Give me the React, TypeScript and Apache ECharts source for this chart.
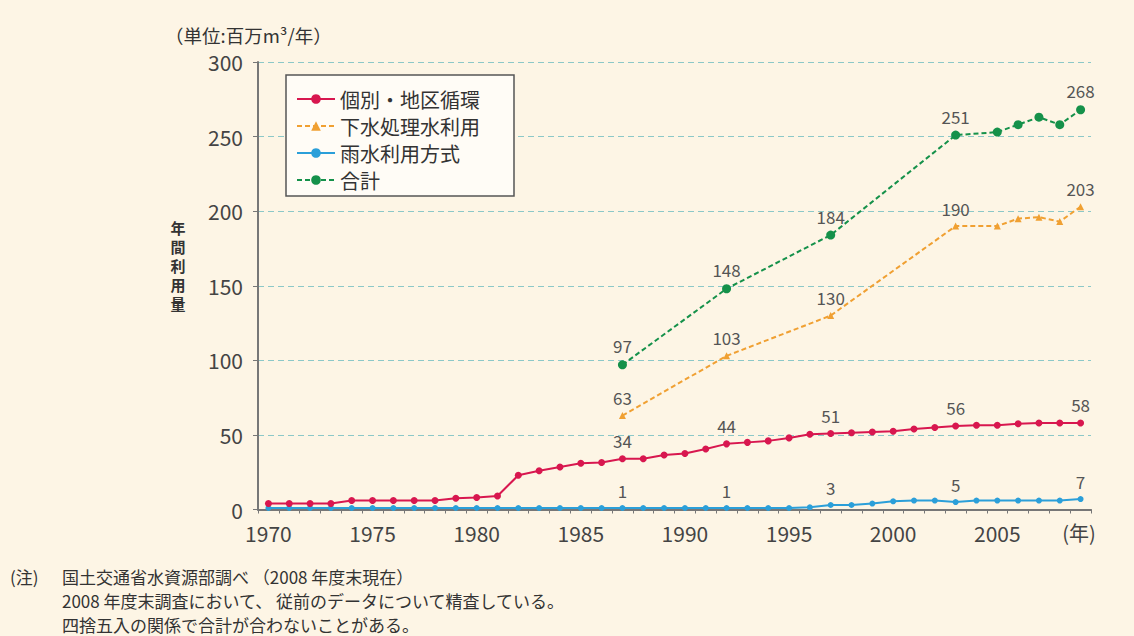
import React, { useEffect, useRef } from "react";
import * as echarts from "echarts";

const years = [
  "1970","1971","1972","1973","1974","1975","1976","1977","1978","1979",
  "1980","1981","1982","1983","1984","1985","1986","1987","1988","1989",
  "1990","1991","1992","1993","1994","1995","1996","1997","1998","1999",
  "2000","2001","2002","2003","2004","2005","2006","2007","2008","2009",
];

// 個別・地区循環
const kobetsu = [
  4, 4, 4, 4, 6, 6, 6, 6, 6, 7.5,
  8, 9, 23, 26, 28.5, 31, 31.5, 34, 34, 36.5,
  37.5, 40.5, 44, 45, 46, 48, 50.5, 51, 51.5, 52,
  52.5, 54, 55, 56, 56.5, 56.5, 57.5, 58, 58, 58,
];
// 下水処理水利用
const gesui = [
  null, null, null, null, null, null, null, null, null, null,
  null, null, null, null, null, null, null, 63, null, null,
  null, null, 103, null, null, null, null, 130, null, null,
  null, null, null, 190, null, 190, 195, 196, 193, 203,
];
// 雨水利用方式
const usui = [
  1, 1, 1, 1, 1, 1, 1, 1, 1, 1,
  1, 1, 1, 1, 1, 1, 1, 1, 1, 1,
  1, 1, 1, 1, 1, 1, 1.5, 3, 3, 4,
  5.5, 6, 6, 5, 6, 6, 6, 6, 6, 7,
];
// 合計
const goukei = [
  null, null, null, null, null, null, null, null, null, null,
  null, null, null, null, null, null, null, 97, null, null,
  null, null, 148, null, null, null, null, 184, null, null,
  null, null, null, 251, null, 253, 258, 263, 258, 268,
];

const labeledYears = ["1987", "1992", "1997", "2003", "2009"];
const yTicks = { min: 0, max: 300, interval: 50 };

const seriesNames = ["個別・地区循環", "下水処理水利用", "雨水利用方式", "合計"];
const colors = ["#d8174f", "#f0a032", "#2b9fd9", "#15914a"];

const yAxisNameChars = ["年", "間", "利", "用", "量"];
const noteMark = "(注)";
const notes = [
  "国土交通省水資源部調べ （2008 年度末現在）",
  "2008 年度末調査において、 従前のデータについて精査している。",
  "四捨五入の関係で合計が合わないことがある。",
];

const FONT = "'Noto Sans CJK JP', 'Noto Sans', sans-serif";

function withLabels(arr: (number | null)[]) {
  return arr.map((v, i) =>
    labeledYears.includes(years[i]) && v !== null
      ? { value: v, label: { show: true } }
      : v
  );
}

export default function App() {
  const ref = useRef<HTMLDivElement>(null);
  useEffect(() => {
    if (!ref.current) return;
    const chart = echarts.init(ref.current, null, { renderer: "svg" });
    const labelStyle = {
      show: false,
      position: "top",
      fontSize: 17,
      color: "#555",
      fontFamily: FONT,
      distance: 6,
      formatter: (p: any) => String(Math.round(p.value)),
    };
    const data = [kobetsu, gesui, usui, goukei];
    const symbols = ["circle", "triangle", "circle", "circle"];
    const sizes = [7, 7, 6, 9];
    const dashed = [false, true, false, true];
    const noteStyle = (t: string, x: number, y: number) => ({
      type: "text",
      x,
      y,
      style: { text: t, fontSize: 17, fontFamily: FONT, fill: "#333", align: "left", verticalAlign: "middle" },
    });
    chart.setOption({
      animation: false,
      backgroundColor: "transparent",
      textStyle: { fontFamily: FONT },
      grid: { left: 258, right: 43, top: 62, bottom: 126.5, containLabel: false },
      legend: {
        orient: "vertical",
        left: 286,
        top: 75,
        itemWidth: 38,
        itemHeight: 12,
        itemGap: 7,
        padding: [14, 34, 6, 10],
        backgroundColor: "#fffcf6",
        borderColor: "#555",
        borderWidth: 1.5,
        textStyle: { fontSize: 20, color: "#333", lineHeight: 20, fontFamily: FONT },
        data: seriesNames,
      },
      xAxis: {
        type: "category",
        data: years,
        boundaryGap: true,
        axisLine: { lineStyle: { color: "#777", width: 2 } },
        axisTick: { show: true, interval: 0, length: 4, lineStyle: { color: "#777" } },
        axisLabel: {
          interval: (i: number, v: string) => Number(v) % 5 === 0,
          fontSize: 21,
          color: "#444",
          margin: 13,
          fontFamily: FONT,
        },
        splitLine: { show: false },
      },
      yAxis: {
        type: "value",
        min: yTicks.min,
        max: yTicks.max,
        interval: yTicks.interval,
        axisLine: { show: true, lineStyle: { color: "#777", width: 2 } },
        axisTick: { show: true, length: 5, lineStyle: { color: "#777" } },
        axisLabel: { fontSize: 21, color: "#444", margin: 15, fontFamily: FONT },
        splitLine: { lineStyle: { type: [6, 4], color: "#8cc8c8", width: 1 } },
      },
      series: data.map((arr, k) => ({
        name: seriesNames[k],
        type: "line",
        data: withLabels(arr),
        connectNulls: true,
        symbol: symbols[k],
        symbolSize: sizes[k],
        showAllSymbol: true,
        color: colors[k],
        itemStyle: { color: colors[k] },
        lineStyle: { color: colors[k], width: 2, type: dashed[k] ? [5, 3] : "solid" },
        label: labelStyle,
        z: k === 0 ? 3 : 2,
      })),
      graphic: [
        {
          type: "text",
          x: 165,
          y: 35,
          style: {
            text: "（単位:百万m³/年）",
            fontSize: 18.5,
            fontFamily: FONT,
            fill: "#333",
            align: "left",
            verticalAlign: "middle",
          },
        },
        ...yAxisNameChars.map((c, i) => ({
          type: "text",
          x: 178,
          y: 227 + i * 19,
          style: {
            text: c,
            fontSize: 15,
            fontWeight: "bold",
            fontFamily: FONT,
            fill: "#333",
            align: "center",
            verticalAlign: "middle",
          },
        })),
        {
          type: "text",
          x: 1079,
          y: 532,
          style: {
            text: "(年)",
            fontSize: 20,
            fontFamily: FONT,
            fill: "#444",
            align: "center",
            verticalAlign: "middle",
          },
        },
        noteStyle(noteMark, 10, 576),
        noteStyle(notes[0], 62, 576),
        noteStyle(notes[1], 62, 600),
        noteStyle(notes[2], 62, 624),
      ],
    });
    return () => chart.dispose();
  }, []);
  return (
    <div
      style={{
        position: "absolute",
        left: 0,
        top: 0,
        width: 1134,
        height: 636,
        background: "#fdf5e5",
        overflow: "hidden",
      }}
    >
      <div ref={ref} style={{ width: 1134, height: 636 }} />
    </div>
  );
}
